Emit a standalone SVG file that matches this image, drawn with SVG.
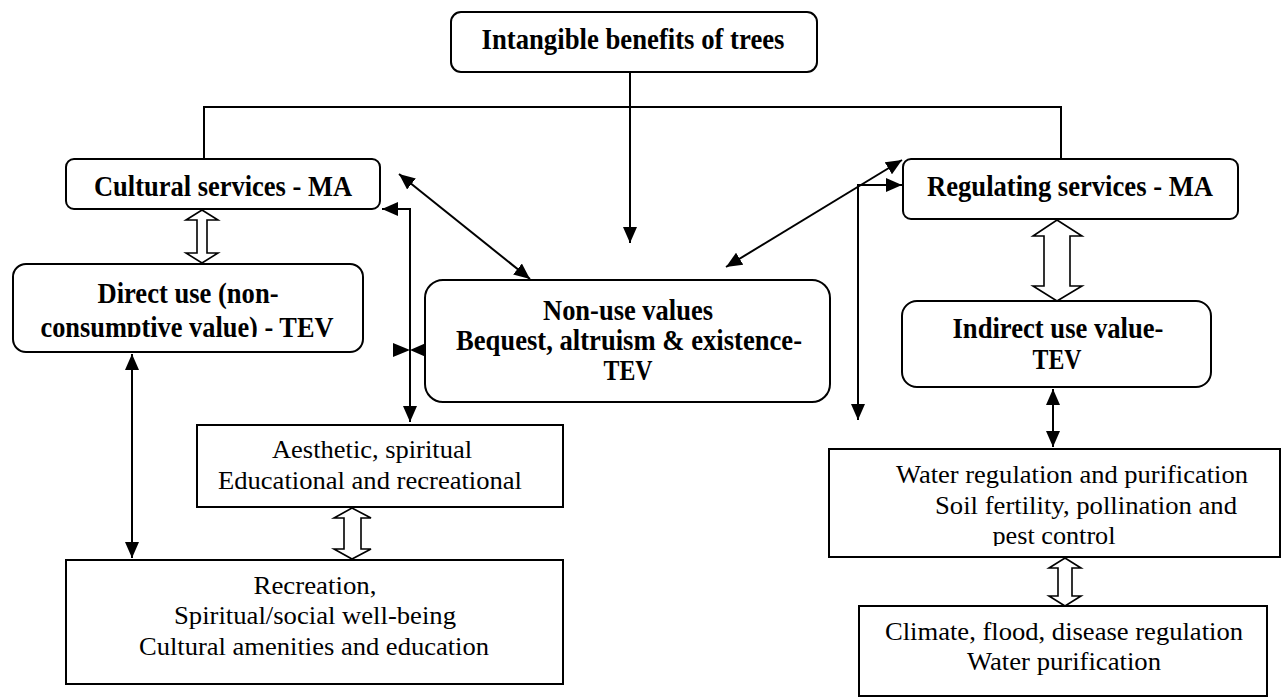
<svg xmlns="http://www.w3.org/2000/svg" width="1282" height="698" viewBox="0 0 1282 698">
<style>
.box{fill:#fff;stroke:#000;stroke-width:2}
.b{font-family:"Liberation Serif","Times New Roman",serif;font-weight:bold;font-size:29px;fill:#000}
.r{font-family:"Liberation Serif","Times New Roman",serif;font-size:25px;fill:#000}
.ln{fill:none;stroke:#000;stroke-width:2}
.hol{fill:#fff;stroke:#000;stroke-width:1.6;stroke-linejoin:miter}
</style>
<defs>
<marker id="ah" markerUnits="userSpaceOnUse" markerWidth="17" markerHeight="14" refX="16" refY="7" orient="auto-start-reverse">
<path d="M0,0 L16,7 L0,14 z" fill="#000"/>
</marker>
<clipPath id="clipDirect"><rect x="0" y="0" width="1282" height="337"/></clipPath>
<clipPath id="clipWater"><rect x="0" y="0" width="1282" height="546"/></clipPath>
</defs>

<g id="connectors">
<path class="ln" d="M630,72 V243" marker-end="url(#ah)"/>
<path class="ln" d="M204,159 V107 H1061 V159"/>
<path class="ln" d="M132,354 V558" marker-start="url(#ah)" marker-end="url(#ah)"/>
<path class="ln" d="M382,209 H410 V422" marker-start="url(#ah)" marker-end="url(#ah)"/>
<path d="M393,343 L410,350 L393,357 z M426,343 L410,350 L426,357 z" fill="#000"/>
<path class="ln" d="M399,174 L530,279" marker-start="url(#ah)" marker-end="url(#ah)"/>
<path class="ln" d="M726,267 L902,160" marker-start="url(#ah)" marker-end="url(#ah)"/>
<path class="ln" d="M858,420 V185 H902" marker-start="url(#ah)" marker-end="url(#ah)"/>
<path class="ln" d="M1053,389 V447" marker-start="url(#ah)" marker-end="url(#ah)"/>
<path class="hol" d="M202,210 L218,220 L207,220 L207,253 L218,253 L202,263 L186,253 L197,253 L197,220 L186,220 z"/>
<path class="hol" d="M1057,220 L1082,236 L1070,236 L1070,286 L1082,286 L1057,301 L1033,286 L1044,286 L1044,236 L1033,236 z"/>
<path class="hol" d="M352,508 L371,518 L361,518 L361,549 L371,549 L352,559 L334,549 L344,549 L344,518 L334,518 z"/>
<path class="hol" d="M1065,558 L1081,568 L1072,568 L1072,596 L1081,596 L1065,606 L1049,596 L1058,596 L1058,568 L1049,568 z"/>
</g>

<g id="top">
<rect class="box" x="451" y="12" width="366" height="60" rx="10"/>
<text class="b" x="633" y="49" text-anchor="middle" textLength="303" lengthAdjust="spacingAndGlyphs">Intangible benefits of trees</text>
</g>

<g id="cultural">
<rect class="box" x="66" y="159" width="314" height="50" rx="8"/>
<text class="b" x="223" y="196" text-anchor="middle" textLength="258" lengthAdjust="spacingAndGlyphs">Cultural services - MA</text>
</g>

<g id="regulating">
<rect class="box" x="903" y="159" width="335" height="60" rx="8"/>
<text class="b" x="1070" y="196" text-anchor="middle" textLength="286" lengthAdjust="spacingAndGlyphs">Regulating services - MA</text>
</g>

<g id="direct">
<rect class="box" x="13" y="264" width="350" height="88" rx="13"/>
<text class="b" x="188" y="303" text-anchor="middle" textLength="181" lengthAdjust="spacingAndGlyphs">Direct use (non-</text>
<text class="b" x="187" y="337" text-anchor="middle" textLength="293" lengthAdjust="spacingAndGlyphs" clip-path="url(#clipDirect)">consumptive value) - TEV</text>
</g>

<g id="nonuse">
<rect class="box" x="425" y="280" width="405" height="122" rx="18"/>
<text class="b" x="628" y="320" text-anchor="middle" textLength="170" lengthAdjust="spacingAndGlyphs">Non-use values</text>
<text class="b" x="629" y="350" text-anchor="middle" textLength="346" lengthAdjust="spacingAndGlyphs">Bequest, altruism &amp; existence-</text>
<text class="b" x="628" y="380" text-anchor="middle" textLength="49" lengthAdjust="spacingAndGlyphs">TEV</text>
</g>

<g id="indirect">
<rect class="box" x="902" y="301" width="309" height="86" rx="15"/>
<text class="b" x="1058" y="338" text-anchor="middle" textLength="211" lengthAdjust="spacingAndGlyphs">Indirect use value-</text>
<text class="b" x="1057" y="369" text-anchor="middle" textLength="49" lengthAdjust="spacingAndGlyphs">TEV</text>
</g>

<g id="aesthetic">
<rect class="box" x="197" y="425" width="366" height="82"/>
<text class="r" x="372" y="458" text-anchor="middle" textLength="200" lengthAdjust="spacingAndGlyphs">Aesthetic, spiritual</text>
<text class="r" x="370" y="489" text-anchor="middle" textLength="304" lengthAdjust="spacingAndGlyphs">Educational and recreational</text>
</g>

<g id="recreation">
<rect class="box" x="66" y="560" width="497" height="124"/>
<text class="r" x="315" y="594" text-anchor="middle" textLength="123" lengthAdjust="spacingAndGlyphs">Recreation,</text>
<text class="r" x="315" y="624" text-anchor="middle" textLength="282" lengthAdjust="spacingAndGlyphs">Spiritual/social well-being</text>
<text class="r" x="314" y="655" text-anchor="middle" textLength="350" lengthAdjust="spacingAndGlyphs">Cultural amenities and education</text>
</g>

<g id="water">
<rect class="box" x="829" y="449" width="451" height="108"/>
<text class="r" x="1072" y="483" text-anchor="middle" textLength="352" lengthAdjust="spacingAndGlyphs">Water regulation and purification</text>
<text class="r" x="1086" y="514" text-anchor="middle" textLength="302" lengthAdjust="spacingAndGlyphs">Soil fertility, pollination and</text>
<text class="r" x="1054" y="544" text-anchor="middle" textLength="123" lengthAdjust="spacingAndGlyphs" clip-path="url(#clipWater)">pest control</text>
</g>

<g id="climate">
<rect class="box" x="859" y="606" width="408" height="90"/>
<text class="r" x="1064" y="640" text-anchor="middle" textLength="358" lengthAdjust="spacingAndGlyphs">Climate, flood, disease regulation</text>
<text class="r" x="1064" y="670" text-anchor="middle" textLength="194" lengthAdjust="spacingAndGlyphs">Water purification</text>
</g>
</svg>
